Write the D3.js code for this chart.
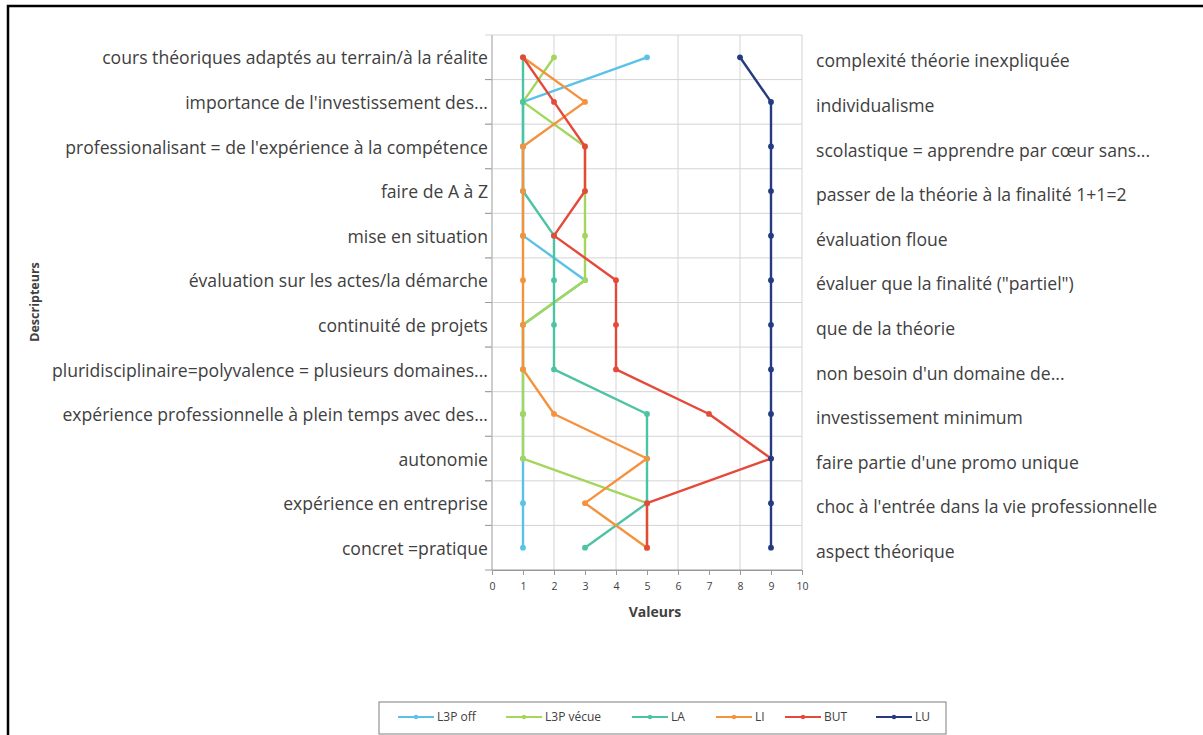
<!DOCTYPE html>
<html><head><meta charset="utf-8">
<script src="https://cdn.jsdelivr.net/npm/d3@7"></script>
<style>body{margin:0;background:#fff}svg{display:block}</style>
</head><body>
<svg id="c" width="1203" height="735"></svg>
<script>
const leftLabels = ["cours théoriques adaptés au terrain/à la réalite","importance de l'investissement des...","professionalisant = de l'expérience à la compétence","faire de A à Z","mise en situation","évaluation sur les actes/la démarche","continuité de projets","pluridisciplinaire=polyvalence = plusieurs domaines...","expérience professionnelle à plein temps avec des...","autonomie","expérience en entreprise","concret =pratique"];
const rightLabels = ["complexité théorie inexpliquée","individualisme","scolastique = apprendre par cœur sans...","passer de la théorie à la finalité 1+1=2","évaluation floue","évaluer que la finalité (\"partiel\")","que de la théorie","non besoin d'un domaine de...","investissement minimum","faire partie d'une promo unique","choc à l'entrée dans la vie professionnelle","aspect théorique"];
const seriesNames = ["L3P off","L3P vécue","LA","LI","BUT","LU"];
const l3pOff   = [5,1,1,1,1,3,1,1,1,1,1,1];
const l3pVecue = [2,1,3,3,3,3,1,1,1,1,5,5];
const la       = [1,1,1,1,2,2,2,2,5,5,5,3];
const li       = [1,3,1,1,1,1,1,1,2,5,3,5];
const but      = [1,2,3,3,2,4,4,4,7,9,5,5];
const lu       = [8,9,9,9,9,9,9,9,9,9,9,9];
const xTicks = [0,1,2,3,4,5,6,7,8,9,10];
const colors = ["#5bc2e7","#a3d65c","#4cc4a4","#f5923e","#e5493a","#253b80"];
const allSeries = [l3pOff,l3pVecue,la,li,but,lu];

const svg = d3.select("#c");
const font = "'Open Sans', 'Noto Sans', sans-serif";
const txt = "#404040";

// outer frame
svg.append("rect").attr("x",8).attr("y",6).attr("width",1300).attr("height",800)
  .attr("fill","none").attr("stroke","#000").attr("stroke-width",2.5);

const x = d3.scaleLinear().domain([0,10]).range([492,802]);
const yb = d3.scaleBand().domain(d3.range(12)).range([35,570]);
const y = i => yb(i) + yb.bandwidth()/2;

const g = svg.append("g");
g.selectAll(".vg").data([0,2,4,6,8,10]).join("line")
  .attr("x1",d=>x(d)).attr("x2",d=>x(d)).attr("y1",35).attr("y2",570)
  .attr("stroke",d=>d===0?"#9a9a9a":"#d4d4d4").attr("stroke-width",1);
const bounds = d3.range(13).map(i => i<12 ? yb(i) : 570);
g.selectAll(".hg").data(bounds).join("line")
  .attr("x1",485).attr("x2",802).attr("y1",d=>d).attr("y2",d=>d)
  .attr("stroke",(d,i)=>i===12?"#9a9a9a":"#d4d4d4").attr("stroke-width",1);
g.selectAll(".hgt").data(bounds.slice(1,12)).join("line")
  .attr("x1",485).attr("x2",492).attr("y1",d=>d).attr("y2",d=>d)
  .attr("stroke","#9a9a9a");

const xAxis = d3.axisBottom(x).tickValues(xTicks).tickSize(5).tickPadding(8);
const ax = svg.append("g").attr("transform","translate(0,570)").call(xAxis);
ax.select(".domain").attr("stroke","#9a9a9a");
ax.selectAll(".tick line").attr("stroke","#9a9a9a");
ax.selectAll(".tick text").attr("font-family",font).attr("font-size",10.5).attr("fill",txt);

svg.selectAll(".ll").data(leftLabels).join("text")
  .attr("x",488).attr("y",(d,i)=>y(i)+1).attr("dy","0.35em").attr("text-anchor","end")
  .attr("font-family",font).attr("font-size",17.6).attr("fill",txt).text(d=>d);
svg.selectAll(".rl").data(rightLabels).join("text")
  .attr("x",816).attr("y",(d,i)=>y(i)+4).attr("dy","0.35em").attr("text-anchor","start")
  .attr("font-family",font).attr("font-size",17.6).attr("fill",txt).text(d=>d);

svg.append("text").attr("x",655).attr("y",617).attr("text-anchor","middle")
  .attr("font-family",font).attr("font-size",14).attr("font-weight","bold").attr("fill",txt).text("Valeurs");
svg.append("text").attr("transform","translate(39,302) rotate(-90)").attr("text-anchor","middle")
  .attr("font-family",font).attr("font-size",12.5).attr("font-weight","bold").attr("fill",txt).text("Descripteurs");

const line = d3.line().x(d=>x(d[0])).y(d=>y(d[1]));
allSeries.forEach((s,k)=>{
  const pts = s.map((v,i)=>[v,i]);
  svg.append("path").attr("d",line(pts)).attr("fill","none")
    .attr("stroke",colors[k]).attr("stroke-width",2.4).attr("stroke-linejoin","round");
  svg.selectAll(".p"+k).data(pts).join("circle")
    .attr("cx",d=>x(d[0])).attr("cy",d=>y(d[1])).attr("r",2.9).attr("fill",colors[k]);
});

const lg = svg.append("g");
lg.append("rect").attr("x",379).attr("y",702).attr("width",567).attr("height",32)
  .attr("fill","#fff").attr("stroke","#7f7f7f").attr("stroke-width",1);
const legX = [398,506,632,716,785,876];
seriesNames.forEach((n,k)=>{
  const lx = legX[k];
  lg.append("line").attr("x1",lx).attr("x2",lx+36).attr("y1",717).attr("y2",717)
    .attr("stroke",colors[k]).attr("stroke-width",2);
  lg.append("circle").attr("cx",lx+18).attr("cy",717).attr("r",2.2).attr("fill",colors[k]);
  lg.append("text").attr("x",lx+39).attr("y",717).attr("dy","0.35em")
    .attr("font-family",font).attr("font-size",12).attr("fill",txt).text(n);
});
</script>
</body></html>
